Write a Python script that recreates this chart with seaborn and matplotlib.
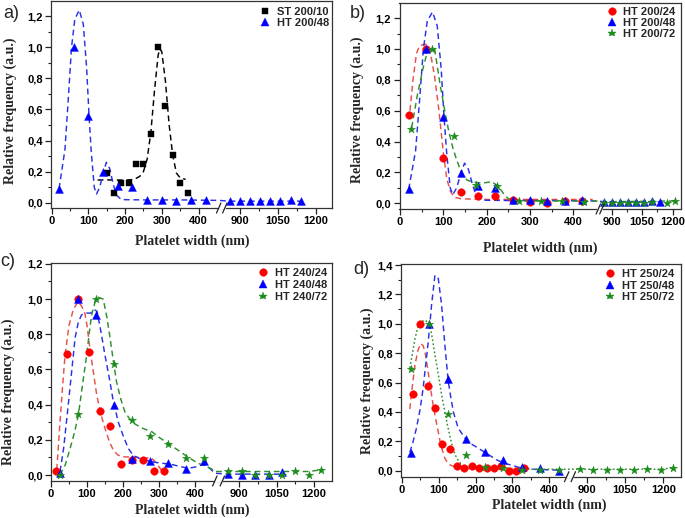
import numpy as np
import matplotlib
matplotlib.use("Agg")
import matplotlib.pyplot as plt
import seaborn as sns
from matplotlib.lines import Line2D
from matplotlib.ticker import FixedLocator, FuncFormatter

W, H = 685, 518

# ================= DATA =================
# Panel a) ST 200/10 (squares) and its fit
st200_10_x = [150, 170, 190, 210, 230, 250, 270, 290, 310, 330, 350, 370]
st200_10_y = [0.19, 0.065, 0.125, 0.125, 0.25, 0.25, 0.44, 1.0, 0.625, 0.31, 0.125, 0.064]
st200_10_fit_x = [125, 150, 175, 200, 225, 240, 250, 260, 270, 280, 290, 295, 300, 310, 320, 330, 340, 350, 365]
st200_10_fit_y = [0.146, 0.147, 0.146, 0.145, 0.15, 0.17, 0.2, 0.28, 0.45, 0.72, 0.95, 0.99, 0.97, 0.78, 0.5, 0.3, 0.19, 0.16, 0.15]

# HT 200/48 (triangles) - used in panels a) and b)
ht200_48_x = [20, 60, 100, 140, 180, 220, 260, 300, 340, 380, 420, 860, 900, 940, 980, 1020, 1060, 1100, 1140]
ht200_48_y = [0.09, 1.0, 0.56, 0.195, 0.11, 0.10, 0.02, 0.02, 0.013, 0.015, 0.02,
              0.009, 0.009, 0.009, 0.009, 0.011, 0.011, 0.017, 0.009]
ht200_48_fit_x = [20, 36, 45, 54, 63, 75, 86, 95, 102, 108, 116, 122, 131, 140, 149, 158, 167, 176, 190, 250, 350, 455, 860, 1140]
ht200_48_fit_y = [0.09, 0.34, 0.66, 1.0, 1.18, 1.24, 1.15, 0.875, 0.55, 0.32, 0.1, 0.056, 0.10, 0.19, 0.26, 0.22, 0.125, 0.05, 0.02, 0.018, 0.018, 0.015, 0.01, 0.01]

# Panel b) HT 200/24 (circles)
ht200_24_x = [20, 60, 100, 140, 180, 220, 260, 300, 340, 380, 420]
ht200_24_y = [0.57, 1.0, 0.295, 0.075, 0.047, 0.047, 0.02, 0.01, 0.0, 0.012, 0.012]
ht200_24_fit_x = [23, 30, 38, 45, 55, 62, 70, 80, 90, 100, 108, 116, 125, 140, 180, 250, 350, 445]
ht200_24_fit_y = [0.6, 0.8, 0.97, 1.02, 1.03, 1.03, 0.98, 0.82, 0.6, 0.33, 0.16, 0.08, 0.04, 0.03, 0.025, 0.025, 0.025, 0.025]

# Panel b) HT 200/72 (stars)
ht200_72_x = [25, 75, 125, 175, 225, 275, 325, 375, 425, 860, 900, 940, 980, 1020, 1060, 1100, 1170, 1210]
ht200_72_y = [0.48, 1.0, 0.435, 0.12, 0.11, 0.015, 0.012, 0.012, 0.01,
              0.005, 0.005, 0.005, 0.005, 0.005, 0.005, 0.008, 0.005, 0.015]
ht200_72_fit_x = [27, 40, 54, 65, 80, 92, 102, 112, 122, 131, 143, 155, 166, 189, 212, 227, 240, 250, 270, 450, 860, 1210]
ht200_72_fit_y = [0.49, 0.7, 0.885, 1.0, 1.0, 0.78, 0.62, 0.475, 0.36, 0.28, 0.19, 0.15, 0.14, 0.13, 0.14, 0.11, 0.06, 0.03, 0.015, 0.015, 0.01, 0.015]

# Panel c) HT 240/24, 240/48, 240/72
ht240_24_x = [15, 45, 75, 105, 135, 165, 195, 225, 255, 285, 315]
ht240_24_y = [0.023, 0.685, 1.0, 0.70, 0.364, 0.278, 0.0625, 0.085, 0.085, 0.023, 0.023]
ht240_24_fit_x = [16, 25, 32, 39, 50, 62, 75, 85, 94, 100, 108, 118, 127, 138, 150, 162, 173, 185, 196, 243, 280, 292, 303, 317]
ht240_24_fit_y = [0.03, 0.3, 0.5, 0.68, 0.85, 0.94, 0.985, 0.96, 0.92, 0.85, 0.72, 0.58, 0.455, 0.35, 0.265, 0.19, 0.142, 0.115, 0.104, 0.10, 0.095, 0.07, 0.038, 0.0]

ht240_48_x = [25, 75, 125, 175, 225, 275, 325, 375, 425, 855, 910, 965, 1020, 1070]
ht240_48_y = [0.01, 1.0, 0.91, 0.40, 0.093, 0.08, 0.066, 0.032, 0.081, 0.005, 0.0, 0.0, 0.0, 0.015]
ht240_48_fit_x = [25, 35, 48, 58, 67, 76, 85, 99, 110, 120, 128, 140, 150, 162, 173, 187, 201, 215, 229, 245, 261, 289, 335, 381, 400, 423, 440, 460, 855, 1070]
ht240_48_fit_y = [0.02, 0.15, 0.40, 0.6, 0.78, 0.87, 0.91, 0.92, 0.92, 0.94, 0.93, 0.8, 0.68, 0.55, 0.42, 0.3, 0.22, 0.15, 0.11, 0.095, 0.085, 0.072, 0.06, 0.038, 0.045, 0.06, 0.04, 0.01, 0.005, 0.005]

ht240_72_x = [25, 75, 125, 175, 225, 275, 325, 375, 425, 855, 910, 965, 1020, 1070, 1125, 1180, 1230]
ht240_72_y = [0.0, 0.345, 1.0, 0.63, 0.313, 0.22, 0.175, 0.095, 0.095, 0.02, 0.02, 0.0, 0.0, 0.0, 0.02, 0.0, 0.03]
ht240_72_fit_x = [25, 40, 53, 65, 76, 88, 99, 107, 113, 122, 131, 145, 155, 164, 173, 182, 194, 205, 218, 233, 255, 280, 303, 326, 350, 372, 390, 409, 428, 450, 470, 855, 1180, 1230]
ht240_72_fit_y = [0.0, 0.06, 0.15, 0.24, 0.34, 0.52, 0.68, 0.82, 0.91, 0.98, 1.01, 1.0, 0.9, 0.78, 0.65, 0.53, 0.43, 0.36, 0.32, 0.29, 0.265, 0.246, 0.21, 0.18, 0.145, 0.114, 0.09, 0.066, 0.053, 0.03, 0.02, 0.02, 0.02, 0.03]

# Panel d) HT 250/24, 250/48, 250/72
ht250_24_x = [30, 50, 70, 90, 110, 130, 150, 170, 190, 210, 230, 250, 270, 290, 310, 330]
ht250_24_y = [0.525, 1.0, 0.575, 0.43, 0.18, 0.148, 0.034, 0.017, 0.034, 0.017, 0.017, 0.017, 0.034, 0.0, 0.0, 0.017]
ht250_24_fit_x = [22, 30, 36, 44, 52, 58, 63, 70, 77, 83, 90, 97, 104, 110, 117, 124, 131, 149, 200, 330]
ht250_24_fit_y = [0.42, 0.6, 0.72, 0.82, 0.866, 0.85, 0.81, 0.7, 0.58, 0.48, 0.38, 0.29, 0.2, 0.14, 0.084, 0.055, 0.039, 0.02, 0.015, 0.015]

ht250_48_x = [25, 75, 125, 175, 225, 275, 325, 375, 425]
ht250_48_y = [0.122, 1.0, 0.627, 0.213, 0.129, 0.072, 0.023, 0.016, 0.0]
ht250_48_fit_x = [22, 30, 40, 50, 58, 65, 72, 81, 90, 99, 108, 117, 126, 133, 140, 153, 172, 190, 208, 225, 244, 260, 280, 316, 361, 430]
ht250_48_fit_y = [0.125, 0.19, 0.29, 0.42, 0.56, 0.72, 0.88, 1.13, 1.33, 1.31, 1.13, 0.855, 0.61, 0.5, 0.40, 0.29, 0.22, 0.18, 0.152, 0.125, 0.095, 0.07, 0.05, 0.023, 0.009, 0.003]

ht250_72_x = [25, 75, 125, 175, 225, 275, 325, 375, 425, 875, 925, 980, 1030, 1085, 1135, 1190, 1240]
ht250_72_y = [0.695, 1.0, 0.385, 0.106, 0.023, 0.016, 0.005, 0.005, 0.005, 0.014, 0.005, 0.005, 0.005, 0.005, 0.014, 0.005, 0.02]
ht250_72_fit_x = [22, 30, 36, 43, 50, 63, 70, 77, 83, 90, 97, 104, 110, 117, 124, 131, 138, 145, 153, 163, 181, 250, 450, 875, 1190, 1240]
ht250_72_fit_y = [0.70, 0.81, 0.90, 0.97, 1.01, 1.025, 1.01, 0.98, 0.90, 0.79, 0.69, 0.58, 0.49, 0.40, 0.31, 0.23, 0.16, 0.107, 0.07, 0.039, 0.016, 0.01, 0.01, 0.01, 0.01, 0.02]

x_major_ticks = [0, 100, 200, 300, 400, 900, 1050, 1200]
x_minor_ticks = [50, 150, 250, 350, 975, 1125]

# ================= STYLE =================
sns.set_style("ticks")
plt.rcParams['font.family'] = ['Liberation Sans', 'DejaVu Sans']
plt.rcParams['font.weight'] = 'bold'
plt.rcParams['axes.linewidth'] = 0.9
plt.rcParams['axes.edgecolor'] = '#333333'

RED_M, RED_L = '#ff0000', '#e8504a'
BLUE_M, BLUE_L = '#0000ff', '#2a32e6'
GREEN_M, GREEN_L = '#1c8c1c', '#2f8f2f'
BLACK = '#000000'
DASH = (0, (4, 2.6))
DOT = (0, (1.2, 1.6))

MK = {'s': 20, '^': 32, 'o': 30, '*': 38}

fig = plt.figure(figsize=(W / 100, H / 100), dpi=100)


def px_rect(l, t, r, b):
    return [l / W, 1 - b / H, (r - l) / W, (b - t) / H]


def make_funcs(p0, b1, p1, b2, p2, p3):
    s1 = (p1 - p0) / b1
    s2 = (p3 - p2) / (1200 - b2)
    xp = np.array([-1e4, 0, b1, b2, 1200, 1e4], dtype=float)
    fp = np.array([p0 - s1 * 1e4, p0, p1, p2, p3, p3 + s2 * (1e4 - 1200)], dtype=float)
    return (lambda x: np.interp(x, xp, fp)), (lambda y: np.interp(y, fp, xp))


panels = [
    dict(rect=(51, 1, 332, 208), scale=(51.7, 455, 218.7, 840, 224.8, 315.9), ylim=(-0.034, 1.298), ymax=1.2,
         letter='a)', letter_xy=(3, 14),
         ylab_xy=(10, 111), xlab_xy=(192, 241),
         series=[(st200_10_x, st200_10_y, st200_10_fit_x, st200_10_fit_y, 's', BLACK, BLACK, DASH, 'ST 200/10'),
                 (ht200_48_x, ht200_48_y, ht200_48_fit_x, ht200_48_fit_y, '^', BLUE_M, BLUE_L, DASH, 'HT 200/48')],
         legend_xy=(265, 13.3), legend_gap=14.3),
    dict(rect=(399.5, 3, 681, 209), scale=(400, 458, 598.3, 852, 601.9, 672.7), ylim=(-0.037, 1.298), ymax=1.2,
         letter='b)', letter_xy=(350, 13),
         ylab_xy=(357.5, 110), xlab_xy=(540, 248),
         series=[(ht200_24_x, ht200_24_y, ht200_24_fit_x, ht200_24_fit_y, 'o', RED_M, RED_L, DASH, 'HT 200/24'),
                 (ht200_48_x, ht200_48_y, ht200_48_fit_x, ht200_48_fit_y, '^', BLUE_M, BLUE_L, DASH, 'HT 200/48'),
                 (ht200_72_x, ht200_72_y, ht200_72_fit_x, ht200_72_fit_y, '*', GREEN_M, GREEN_L, DASH, 'HT 200/72')],
         legend_xy=(611.7, 13.3), legend_gap=13.9),
    dict(rect=(51, 263.3, 332, 481), scale=(51, 455, 214.8, 833, 222.3, 314), ylim=(-0.034, 1.203), ymax=1.2,
         letter='c)', letter_xy=(0, 262),
         ylab_xy=(8.5, 392), xlab_xy=(192, 510),
         series=[(ht240_24_x, ht240_24_y, ht240_24_fit_x, ht240_24_fit_y, 'o', RED_M, RED_L, DASH, 'HT 240/24'),
                 (ht240_48_x, ht240_48_y, ht240_48_fit_x, ht240_48_fit_y, '^', BLUE_M, BLUE_L, DASH, 'HT 240/48'),
                 (ht240_72_x, ht240_72_y, ht240_72_fit_x, ht240_72_fit_y, '*', GREEN_M, GREEN_L, DASH, 'HT 240/72')],
         legend_xy=(263, 274.3), legend_gap=15.0),
    dict(rect=(401, 264.3, 681, 476.7), scale=(401.7, 447, 566.7, 847, 573.3, 663.3), ylim=(-0.041, 1.405), ymax=1.4,
         letter='d)', letter_xy=(353, 270),
         ylab_xy=(367.5, 381), xlab_xy=(549, 505),
         series=[(ht250_24_x, ht250_24_y, ht250_24_fit_x, ht250_24_fit_y, 'o', RED_M, RED_L, DASH, 'HT 250/24'),
                 (ht250_48_x, ht250_48_y, ht250_48_fit_x, ht250_48_fit_y, '^', BLUE_M, BLUE_L, DASH, 'HT 250/48'),
                 (ht250_72_x, ht250_72_y, ht250_72_fit_x, ht250_72_fit_y, '*', GREEN_M, GREEN_L, DOT, 'HT 250/72')],
         legend_xy=(610, 275.7), legend_gap=14.3),
]

comma_fmt = FuncFormatter(lambda v, _: f"{v:.1f}".replace('.', ','))

for P in panels:
    l, t, r, b = P['rect']
    ax = fig.add_axes(px_rect(l, t, r, b))
    handles, labels = [], []
    for (sx, sy, fx, fy, mk, mc, lc, ls, lab) in P['series']:
        sns.lineplot(x=fx, y=fy, ax=ax, color=lc, linestyle=ls, linewidth=1.05,
                     sort=False, estimator=None, zorder=2)
        sns.scatterplot(x=sx, y=sy, ax=ax, marker=mk, color=mc, s=MK[mk],
                        edgecolor=mc, linewidth=0.3, zorder=3)
        handles.append(Line2D([], [], marker=mk, linestyle='none', color=mc,
                              markersize=np.sqrt(MK[mk]), markeredgewidth=0.3))
        labels.append(lab)

    fwd, inv = make_funcs(*P['scale'])
    ax.set_xscale('function', functions=(fwd, inv))
    ax.set_xlim(inv(l), inv(r))
    ax.set_ylim(*P['ylim'])
    ax.xaxis.set_major_locator(FixedLocator(x_major_ticks))
    ax.xaxis.set_minor_locator(FixedLocator(x_minor_ticks))
    ax.xaxis.set_major_formatter(FuncFormatter(lambda v, _: f"{int(round(v))}"))
    yt = np.round(np.arange(0, P['ymax'] + 0.001, 0.2), 1)
    ax.yaxis.set_major_locator(FixedLocator(yt))
    ax.yaxis.set_minor_locator(FixedLocator(np.round(yt[:-1] + 0.1, 1)))
    ax.yaxis.set_major_formatter(comma_fmt)
    ax.tick_params(which='major', direction='out', length=4, width=0.9, pad=2,
                   labelsize=8, colors='#222222', labelcolor='black')
    ax.tick_params(which='minor', direction='out', length=2.3, width=0.8, colors='#222222')
    for s in ax.spines.values():
        s.set_visible(True)

    # axis labels
    ax.set_xlabel('Platelet width (nm)', fontfamily='Liberation Serif', fontweight='bold',
                  fontsize=10, va='center')
    ax.set_ylabel('Relative frequency (a.u.)', fontfamily='Liberation Serif', fontweight='bold',
                  fontsize=10, va='center')
    xlx, xly = P['xlab_xy']
    ax.xaxis.set_label_coords((xlx - l) / (r - l), (b - xly) / (b - t))
    ylx, yly = P['ylab_xy']
    ax.yaxis.set_label_coords((ylx - l) / (r - l), (b - yly) / (b - t))

    # panel letter
    lx, ly = P['letter_xy']
    fig.text(lx / W, 1 - ly / H, P['letter'], fontsize=13, fontweight='normal',
             fontfamily='Liberation Sans', ha='left', va='center')

    # legend
    fs_px = 8 / 72 * 100
    mx, my = P['legend_xy']
    row_h = 1.16 * fs_px
    ax.legend(handles, labels, loc='upper left',
              bbox_to_anchor=((mx - 0.5 * fs_px) / W, 1 - (my - row_h / 2) / H),
              bbox_transform=fig.transFigure, frameon=False, borderpad=0, borderaxespad=0,
              handlelength=1.0, handletextpad=0.55,
              labelspacing=(P['legend_gap'] - row_h) / fs_px,
              prop={'family': 'Liberation Sans', 'weight': 'bold', 'size': 8})

    # axis break marks on bottom axis
    p1, p2 = P['scale'][2], P['scale'][4]
    fig.add_artist(Line2D([p1 / W, p2 / W], [1 - b / H, 1 - b / H], transform=fig.transFigure,
                          color='white', linewidth=1.6, zorder=10))
    for xb in (p1, p2):
        fig.add_artist(Line2D([(xb - 2.2) / W, (xb + 2.2) / W], [1 - (b + 5) / H, 1 - (b - 5) / H],
                              transform=fig.transFigure, color='#222222', linewidth=0.9, zorder=11))

fig.savefig('out.png', dpi=100)
